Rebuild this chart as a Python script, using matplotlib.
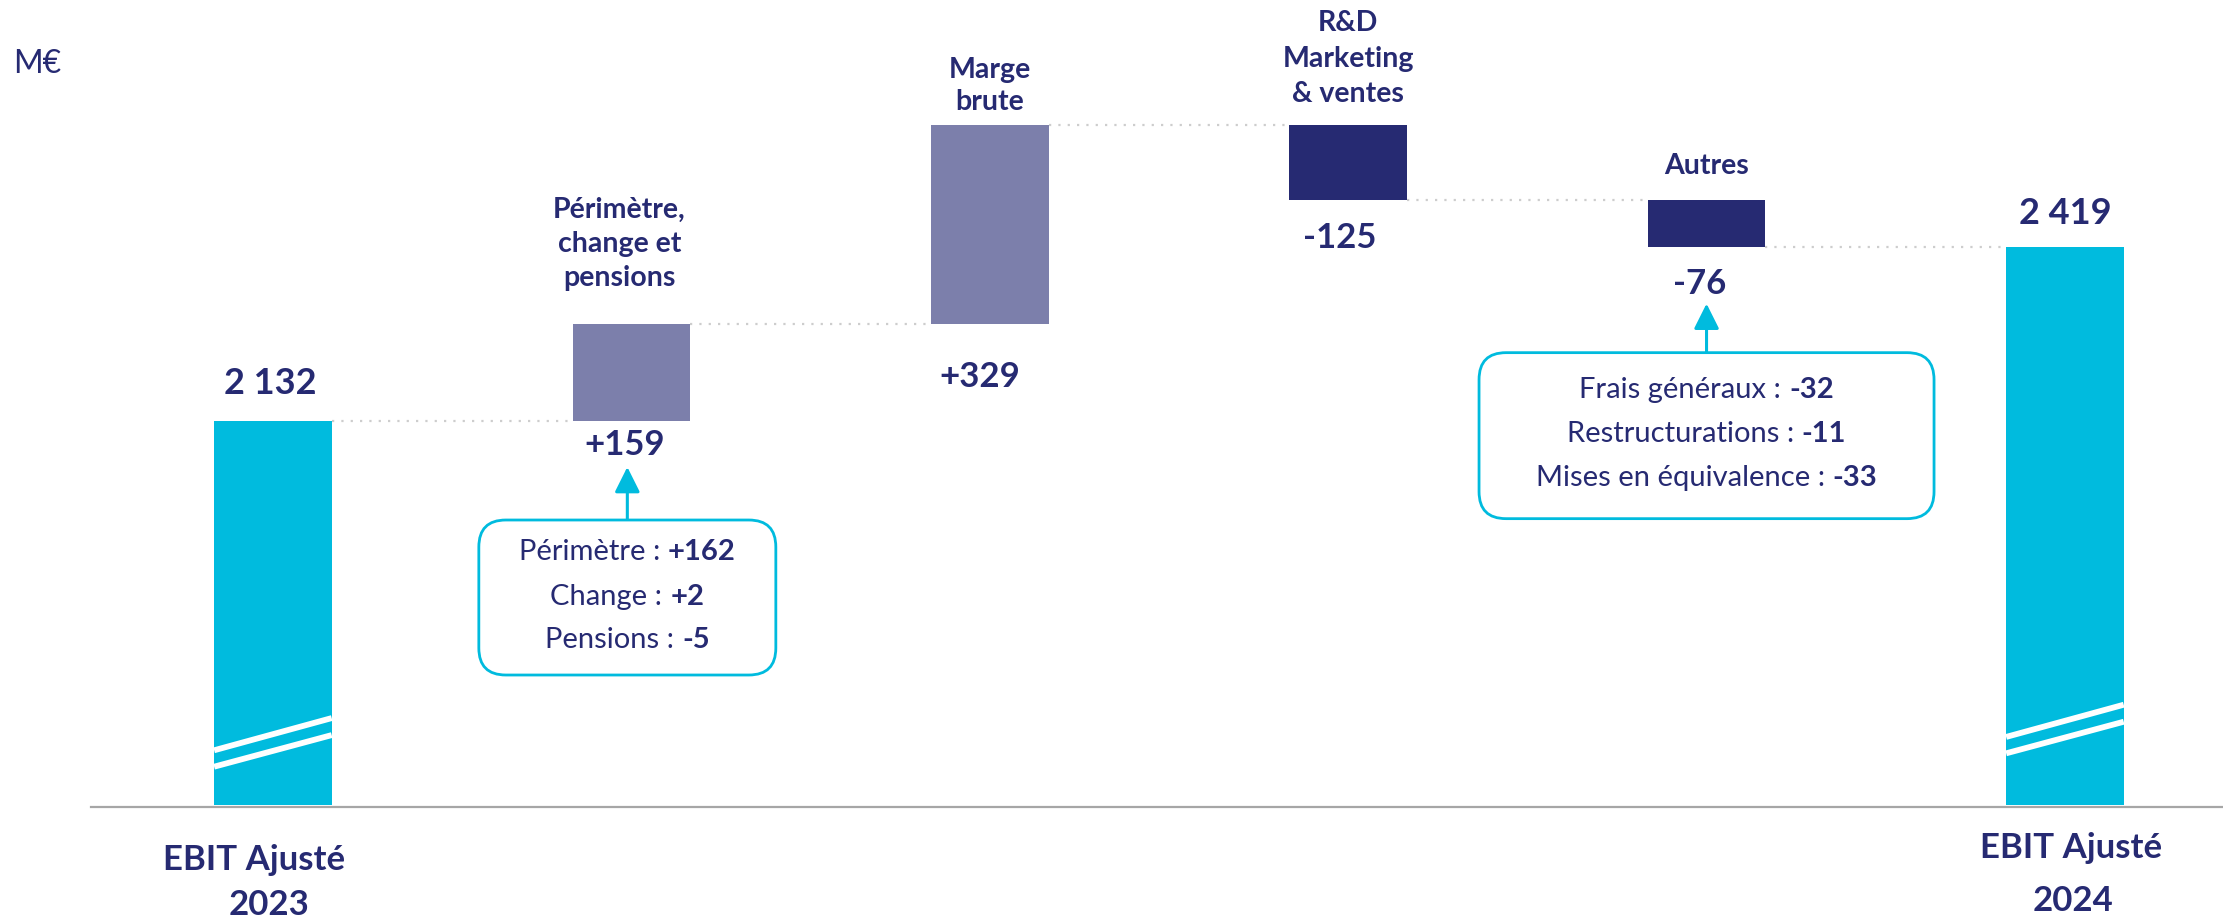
import numpy as np
import matplotlib
matplotlib.use('Agg')
import matplotlib.pyplot as plt
from matplotlib.patches import FancyBboxPatch
from matplotlib.transforms import IdentityTransform

# ---- data (M€)
start_label = ['EBIT Ajusté', '2023']
end_label = ['EBIT Ajusté', '2024']
step_labels = [['Périmètre,', 'change et', 'pensions'],
               ['Marge', 'brute'],
               ['R&D', 'Marketing', '& ventes'],
               ['Autres']]
start_value = 2132
step_values = [159, 329, -125, -76]
end_value = 2419
axis_floor = 1500  # broken axis: bars start here

box1_names = ['Périmètre', 'Change', 'Pensions']
box1_values = ['+162', '+2', '-5']
box2_names = ['Frais généraux', 'Restructurations', 'Mises en équivalence']
box2_values = ['-32', '-11', '-33']

# ---- styles
NAVY = '#262A72'
CYAN = '#00BBDE'
LAV = '#7C7FAB'
DARK = '#262A72'
DOT = '#CDCDCD'
AXIS = '#A6A6A6'
DPI = 100
CAP = 0.7165  # Lato cap height / em

plt.rcParams['font.family'] = ['Lato', 'DejaVu Sans']

fig = plt.figure(figsize=(22.23, 9.21), dpi=DPI)
ax = fig.add_axes([0, 0, 1, 1])
ax.set_xlim(-0.7615, 5.441)
ax.set_ylim(1309, 2825)
ax.axis('off')

# waterfall geometry
x = np.arange(len(step_values) + 2)
bottoms, heights, colors, levels = [axis_floor], [start_value - axis_floor], [CYAN], [start_value]
level = start_value
for d in step_values:
    bottoms.append(min(level, level + d))
    heights.append(abs(d))
    colors.append(LAV if d > 0 else DARK)
    level += d
    levels.append(level)
bottoms.append(axis_floor)
heights.append(end_value - axis_floor)
colors.append(CYAN)
levels.append(end_value)

w = 0.328
ax.bar(x, heights, bottom=bottoms, width=w, color=colors, zorder=2)

# broken-axis marks on the two totals
for xi, lift in ((x[0], 0), (x[-1], 22)):
    for y0, y1 in ((1590, 1643), (1563, 1615)):
        ax.plot([xi - w / 2, xi + w / 2], [y0 + lift, y1 + lift], color='white',
                lw=4.2, solid_capstyle='butt', zorder=3)

# baseline
ax.axhline(axis_floor - 4, xmin=0.041, xmax=1, color=AXIS, lw=1.6, zorder=1)

# dotted connectors
for i in range(len(x) - 1):
    ax.plot([x[i] + w / 2, x[i + 1] - w / 2], [levels[i], levels[i]], color=DOT,
            lw=1.6, linestyle=(0, (1, 3.2)), zorder=1)


def put(xd, yd, dx, dy, s, size, weight='bold'):
    # dy: pixel offset (up) of the middle of the capitals from the data point
    em = size * DPI / 72
    ax.annotate(s, (xd, yd), xytext=(dx, dy - CAP * em / 2), textcoords='offset pixels',
                ha='center', va='baseline', fontsize=size, fontweight=weight, color=NAVY)


def fmt_total(v):
    return f'{v:,}'.replace(',', ' ')


# value labels
put(x[0], start_value, -3, 40, fmt_total(start_value), 26)
put(x[-1], end_value, 0, 36, fmt_total(end_value), 26)
val_offsets = [(-7, -22), (-10, -50), (-8, -35), (-7, -35)]
for i, d in enumerate(step_values):
    dx, dy = val_offsets[i]
    put(x[i + 1], bottoms[i + 1], dx, dy, f'{d:+d}', 25)

# category labels above the step bars
cat_offsets = [(-12, [117, 83, 49]), (0, [57, 25]), (0, [104, 68, 33]), (0, [37])]
for i, lines in enumerate(step_labels):
    dx, dys = cat_offsets[i]
    top = bottoms[i + 1] + heights[i + 1]
    for s, dy in zip(lines, dys):
        put(x[i + 1], top, dx, dy, s, 20.5)

# total labels under the axis
for xi, lines, dxs, dys in ((x[0], start_label, (-19, -4), (-53, -98)),
                            (x[-1], end_label, (6, 8), (-41, -94))):
    for s, dx, dy in zip(lines, dxs, dys):
        put(xi, axis_floor, dx, dy, s, 25)

# unit
fig.text(13, 921 - 62 - CAP * 23 * DPI / 72 / 2, 'M€', transform=IdentityTransform(),
         fontsize=23, color=NAVY, ha='left', va='baseline')

renderer = fig.canvas.get_renderer()


def callout(xd, yd, names, values, dx, top_gap, box_w, box_h, line_dys, tip_gap, size=21):
    cx, cy = ax.transData.transform((xd, yd))
    cx += dx
    top = cy - top_gap
    box = FancyBboxPatch((cx - box_w / 2, top - box_h), box_w, box_h,
                         boxstyle='round,pad=0,rounding_size=27', transform=IdentityTransform(),
                         fc='white', ec=CYAN, lw=2.0, zorder=4)
    fig.add_artist(box)
    ax.annotate('', xy=(cx, cy - tip_gap), xytext=(cx, top), xycoords='figure pixels',
                textcoords='figure pixels',
                arrowprops=dict(arrowstyle='-|>,head_length=0.7,head_width=0.35', color=CYAN,
                                lw=2.2, shrinkA=0, shrinkB=0, mutation_scale=22))
    em = size * DPI / 72
    gap = 0.27 * em
    for name, val, ldy in zip(names, values, line_dys):
        base = top - ldy - CAP * em / 2
        t1 = fig.text(0, base, name + ' :', transform=IdentityTransform(), fontsize=size,
                      color=NAVY, va='baseline', ha='left', zorder=6)
        t2 = fig.text(0, base, val, transform=IdentityTransform(), fontsize=size,
                      fontweight='bold', color=NAVY, va='baseline', ha='left', zorder=6)
        w1 = t1.get_window_extent(renderer).width
        w2 = t2.get_window_extent(renderer).width
        left = cx - (w1 + gap + w2) / 2
        t1.set_x(left)
        t2.set_x(left + w1 + gap)


callout(x[1], bottoms[1], box1_names, box1_values, -4, 99, 297, 155, [30, 75, 118], 46)
callout(x[4], bottoms[4], box2_names, box2_values, 0, 106, 455, 166, [35, 79, 123], 57)

fig.savefig('out.png', dpi=DPI, facecolor='white')
